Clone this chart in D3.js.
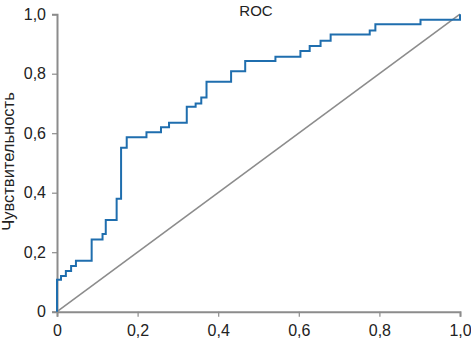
<!DOCTYPE html>
<html>
<head>
<meta charset="utf-8">
<script src="https://cdn.jsdelivr.net/npm/d3@7"></script>
<style>
  body { margin: 0; background: #fff; }
  text { font-family: "Liberation Sans", Arial, sans-serif; }
</style>
</head>
<body>
<div id="chart"></div>
<script>
// ROC step points: false positive rate -> sensitivity
var fpr = [0, 0, 0.010, 0.022, 0.035, 0.047, 0.086, 0.113, 0.121, 0.148, 0.159, 0.173,
    0.222, 0.258, 0.278, 0.322, 0.344, 0.358, 0.371, 0.432, 0.467, 0.542, 0.604, 0.627,
    0.654, 0.679, 0.776, 0.790, 0.902, 1.0];
var tpr = [0, 0.107, 0.12, 0.137, 0.154, 0.171, 0.243, 0.261, 0.308, 0.38, 0.551, 0.586,
    0.603, 0.62, 0.635, 0.689, 0.70, 0.72, 0.773, 0.808, 0.843, 0.857, 0.876, 0.893,
    0.911, 0.932, 0.945, 0.966, 0.981, 1.0];
var tickVals = [0, 0.2, 0.4, 0.6, 0.8, 1.0];
var tickLabels = ["0", "0,2", "0,4", "0,6", "0,8", "1,0"];

var width = 471, height = 340;
var svg = d3.select("#chart").append("svg")
    .attr("width", width)
    .attr("height", height);

var x = d3.scaleLinear().domain([0, 1]).range([57, 460]);
var y = d3.scaleLinear().domain([0, 1]).range([311.7, 14.2]);

var axisColor = "#8c8c8c";

// x axis
var gx = svg.append("g")
    .attr("transform", "translate(0," + y(0) + ")")
    .call(d3.axisBottom(x).tickValues(tickVals)
        .tickFormat(function(d, i) { return tickLabels[i]; })
        .tickSize(5).tickPadding(8));
// y axis
var gy = svg.append("g")
    .attr("transform", "translate(" + x(0) + ",0)")
    .call(d3.axisLeft(y).tickValues(tickVals)
        .tickFormat(function(d, i) { return tickLabels[i]; })
        .tickSize(5).tickPadding(6));

[gx, gy].forEach(function(g) {
    g.select(".domain").attr("stroke", axisColor).attr("stroke-width", 2);
    g.selectAll(".tick line").attr("stroke", axisColor).attr("stroke-width", 1.2);
    g.selectAll(".tick text")
        .attr("fill", "#222")
        .style("font-size", "16px")
        .style("font-family", "'Liberation Sans', Arial, sans-serif");
});

// diagonal reference line
svg.append("line")
    .attr("x1", x(0)).attr("y1", y(0))
    .attr("x2", x(1)).attr("y2", y(1))
    .attr("stroke", "#8c8c8c")
    .attr("stroke-width", 1.6);

// ROC curve
var pts = fpr.map(function(d, i) { return [d, tpr[i]]; });
var line = d3.line()
    .x(function(d) { return x(d[0]); })
    .y(function(d) { return y(d[1]); })
    .curve(d3.curveStepAfter);

svg.append("path")
    .datum(pts)
    .attr("d", line)
    .attr("fill", "none")
    .attr("stroke", "#1f6eae")
    .attr("stroke-width", 2);

// title
svg.append("text")
    .attr("x", 256)
    .attr("y", 15.5)
    .attr("text-anchor", "middle")
    .style("font-size", "15px")
    .attr("fill", "#222")
    .text("ROC");

// y label
svg.append("text")
    .attr("transform", "translate(13.5,161.5) rotate(-90)")
    .attr("text-anchor", "middle")
    .style("font-size", "16.5px")
    .attr("fill", "#222")
    .text("Чувствительность");
</script>
</body>
</html>
